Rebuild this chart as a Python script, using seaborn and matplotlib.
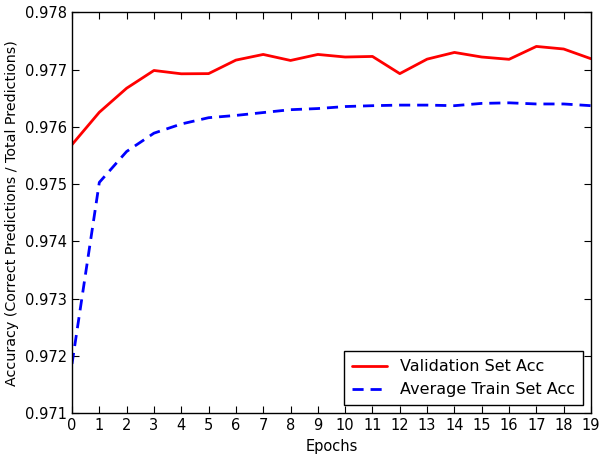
import pandas as pd
import seaborn as sns
import matplotlib.pyplot as plt

epochs = list(range(20))
val_acc = [0.97569, 0.976255, 0.976675, 0.976985, 0.976927, 0.97693, 0.977166,
           0.977265, 0.97716, 0.977265, 0.97722, 0.97723, 0.97693, 0.977183,
           0.9773, 0.97722, 0.97718, 0.977405, 0.97736, 0.97719]
train_acc = [0.97186, 0.97503, 0.97557, 0.97589, 0.97605, 0.97616, 0.97620,
             0.97625, 0.97630, 0.97632, 0.976355, 0.97637, 0.97638, 0.97638,
             0.97637, 0.97641, 0.97642, 0.97640, 0.97640, 0.97637]
series_names = ["Validation Set Acc", "Average Train Set Acc"]

df = pd.DataFrame({
    "epoch": epochs * 2,
    "acc": val_acc + train_acc,
    "series": [series_names[0]] * 20 + [series_names[1]] * 20,
})

sns.set_style("ticks")
plt.rcParams["font.family"] = ["DejaVu Sans"]
plt.rcParams["text.color"] = "black"
plt.rcParams["axes.labelcolor"] = "black"
plt.rcParams["xtick.color"] = "black"
plt.rcParams["ytick.color"] = "black"

fig, ax = plt.subplots(figsize=(6, 4.58), dpi=100)
sns.lineplot(data=df, x="epoch", y="acc", hue="series", style="series",
             palette=["#ff0000", "#0000ff"], dashes=[(None, None), (4, 2.5)],
             linewidth=2, ax=ax)

ax.set_xlim(0, 19)
ax.set_ylim(0.971, 0.978)
ax.set_xticks(epochs)
ax.yaxis.set_major_formatter(plt.FormatStrFormatter("%.3f"))
ax.tick_params(direction="in", top=True, right=True, length=5, labelsize=10.5)
for s in ax.spines.values():
    s.set_linewidth(1)
    s.set_color("black")
ax.set_xlabel("Epochs", fontsize=10.5)
ax.set_ylabel("Accuracy (Correct Predictions / Total Predictions)", fontsize=10.3)

leg = ax.legend(loc="lower right", fontsize=11.5, fancybox=False, framealpha=1,
                edgecolor="black", borderpad=0.5, handlelength=2.2)
leg.get_frame().set_linewidth(1)

plt.subplots_adjust(left=0.12, right=0.985, top=0.973, bottom=0.098)
plt.savefig("out.png", dpi=100)
plt.close()
